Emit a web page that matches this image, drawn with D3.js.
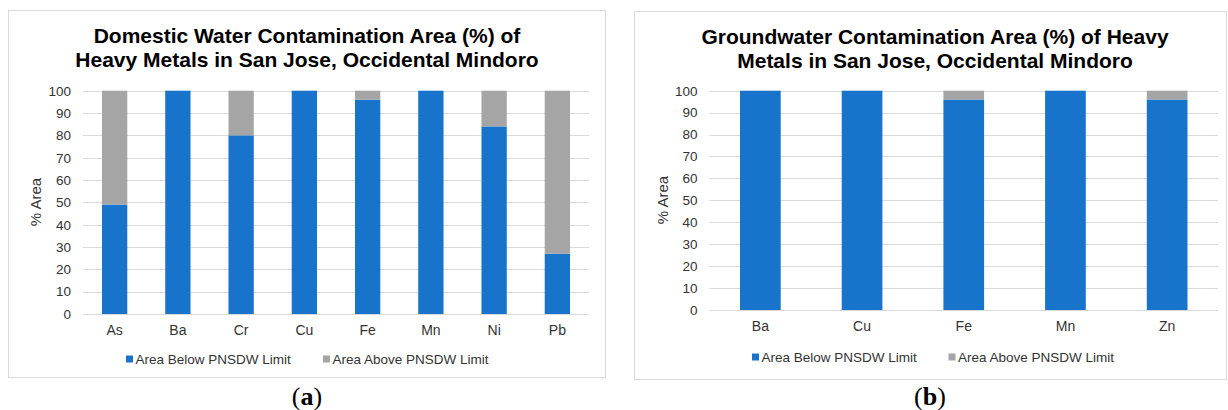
<!DOCTYPE html>
<html>
<head>
<meta charset="utf-8">
<script src="https://cdn.jsdelivr.net/npm/d3@7"></script>
<style>
  html, body { margin: 0; padding: 0; background: #fff; }
  svg { display: block; }
</style>
</head>
<body>
<svg id="main" width="1228" height="410"></svg>
<script>
// panel (a) - domestic water
const domesticMetals = ['As', 'Ba', 'Cr', 'Cu', 'Fe', 'Mn', 'Ni', 'Pb'];
const domesticBelow = [49, 100, 80, 100, 96, 100, 84, 27];
const domesticAbove = [51, 0, 20, 0, 4, 0, 16, 73];

// panel (b) - groundwater
const groundMetals = ['Ba', 'Cu', 'Fe', 'Mn', 'Zn'];
const groundBelow = [100, 100, 96, 100, 96];
const groundAbove = [0, 0, 4, 0, 4];

const yTicks = [0, 10, 20, 30, 40, 50, 60, 70, 80, 90, 100];
const seriesNames = ['Area Below PNSDW Limit', 'Area Above PNSDW Limit'];

const BLUE = '#1873CA';
const GREY = '#A5A5A5';
const FONT = 'Arial, "Liberation Sans", sans-serif';

const svg = d3.select('#main');

function drawPanel(cfg) {
  const g = svg.append('g');

  // outer frame
  g.append('rect')
    .attr('x', cfg.box[0] + 0.5).attr('y', cfg.box[1] + 0.5)
    .attr('width', cfg.box[2] - cfg.box[0]).attr('height', cfg.box[3] - cfg.box[1])
    .attr('fill', '#fff').attr('stroke', '#D9D9D9').attr('stroke-width', 1);

  // title
  const title = g.append('text')
    .attr('text-anchor', 'middle')
    .attr('font-family', FONT).attr('font-weight', 'bold')
    .attr('font-size', 21).attr('fill', '#000');
  cfg.title.forEach((line, i) => {
    title.append('tspan').attr('x', cfg.titleX).attr('y', cfg.titleY + i * 24).text(line);
  });

  const x = d3.scaleBand()
    .domain(cfg.metals)
    .range([cfg.left, cfg.right])
    .paddingInner(0.6).paddingOuter(0.3);

  const y = d3.scaleLinear()
    .domain([0, 100])
    .range([cfg.bottom, cfg.top]);

  // gridlines
  g.selectAll('.grid')
    .data(yTicks)
    .enter().append('line')
      .attr('x1', cfg.left).attr('x2', cfg.right)
      .attr('y1', d => Math.round(y(d)) + 0.5).attr('y2', d => Math.round(y(d)) + 0.5)
      .attr('stroke', '#D9D9D9').attr('stroke-width', 1);

  // y axis labels
  const yAxis = g.append('g')
    .attr('transform', 'translate(' + cfg.left + ',0)')
    .call(d3.axisLeft(y).tickValues(yTicks).tickSize(0).tickPadding(12));
  yAxis.select('.domain').remove();
  yAxis.selectAll('text')
    .attr('font-family', FONT).attr('font-size', 13.5).attr('fill', '#333');

  // x axis labels
  const xAxis = g.append('g')
    .attr('transform', 'translate(0,' + cfg.bottom + ')')
    .call(d3.axisBottom(x).tickSize(0).tickPadding(11));
  xAxis.select('.domain').remove();
  xAxis.selectAll('text')
    .attr('font-family', FONT).attr('font-size', 14).attr('fill', '#333');

  // stacked bars
  const rows = cfg.metals.map((m, i) => ({ metal: m, below: cfg.below[i], above: cfg.above[i] }));
  const stack = d3.stack().keys(['below', 'above'])(rows);
  const colors = [BLUE, GREY];

  g.selectAll('.layer')
    .data(stack)
    .enter().append('g')
      .attr('fill', (d, i) => colors[i])
    .selectAll('rect')
    .data(d => d)
    .enter().append('rect')
      .attr('x', d => x(d.data.metal))
      .attr('width', x.bandwidth())
      .attr('y', d => y(d[1]))
      .attr('height', d => y(d[0]) - y(d[1]));

  // y axis title
  g.append('text')
    .attr('transform', 'translate(' + cfg.yTitleX + ',' + cfg.yTitleY + ') rotate(-90)')
    .attr('text-anchor', 'middle')
    .attr('font-family', FONT).attr('font-size', 15).attr('fill', '#333')
    .text('% Area');

  // legend
  const leg = g.selectAll('.legend')
    .data(seriesNames)
    .enter().append('g')
      .attr('transform', (d, i) => 'translate(' + cfg.legendX[i] + ',' + cfg.legendY + ')');
  leg.append('rect')
    .attr('x', 0).attr('y', -3.5).attr('width', 7).attr('height', 7)
    .attr('fill', (d, i) => colors[i]);
  leg.append('text')
    .attr('x', 9.5).attr('y', 5)
    .attr('font-family', FONT).attr('font-size', 13.5).attr('fill', '#333')
    .text(d => d);

  // panel letter
  const lab = g.append('text')
    .attr('x', cfg.letterX).attr('y', 405)
    .attr('text-anchor', 'middle')
    .attr('font-family', '"Palatino Linotype", "Book Antiqua", "Liberation Serif", serif')
    .attr('font-size', 26).attr('fill', '#000');
  lab.append('tspan').text('(');
  lab.append('tspan').attr('font-weight', 'bold').text(cfg.letter);
  lab.append('tspan').text(')');
}

drawPanel({
  box: [8, 10, 605, 377],
  title: ['Domestic Water Contamination Area (%) of', 'Heavy Metals in San Jose, Occidental Mindoro'],
  titleX: 307, titleY: 43,
  metals: domesticMetals, below: domesticBelow, above: domesticAbove,
  left: 83, right: 589, top: 90.7, bottom: 314,
  yTitleX: 41, yTitleY: 202,
  legendX: [126, 323], legendY: 359,
  letter: 'a', letterX: 307
});

drawPanel({
  box: [634, 11, 1226, 379],
  title: ['Groundwater Contamination Area (%) of Heavy', 'Metals in San Jose, Occidental Mindoro'],
  titleX: 935, titleY: 44,
  metals: groundMetals, below: groundBelow, above: groundAbove,
  left: 709.5, right: 1218, top: 90.7, bottom: 310,
  yTitleX: 668, yTitleY: 200,
  legendX: [752, 948.5], legendY: 357,
  letter: 'b', letterX: 930
});
</script>
</body>
</html>
